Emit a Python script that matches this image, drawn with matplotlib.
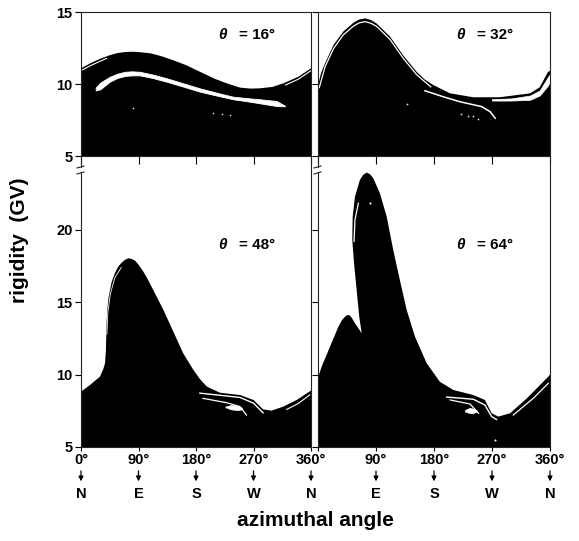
import matplotlib.pyplot as plt
from matplotlib.lines import Line2D

plt.rcParams['font.family'] = ['Liberation Sans', 'DejaVu Sans']
plt.rcParams['font.weight'] = 'bold'

W, H = 579, 541

# ---- theta = 16 deg (top left) ----
az16 = [0, 15, 30, 45, 57, 69, 80, 90, 109, 126, 143, 165, 186, 210, 228, 249, 265, 280, 300, 317, 340, 360]
r16 = [11.09, 11.45, 11.75, 12.0, 12.15, 12.22, 12.24, 12.22, 12.13, 11.93, 11.67, 11.3, 10.85, 10.35, 10.05, 9.75, 9.68, 9.7, 9.8, 10.05, 10.5, 11.09]
band16_az = [23, 30, 45, 57, 69, 80, 92, 112, 134, 160, 186, 212, 238, 260, 280, 306, 319]
band16_lo = [9.55, 9.63, 10.16, 10.42, 10.56, 10.6, 10.6, 10.42, 10.16, 9.82, 9.47, 9.2, 8.94, 8.8, 8.66, 8.47, 8.45]
band16_hi = [9.75, 10.09, 10.5, 10.72, 10.85, 10.88, 10.85, 10.66, 10.4, 10.05, 9.7, 9.4, 9.12, 9.02, 8.94, 8.82, 8.5]
edge16a_az = [0, 15, 30, 40]
edge16a_r = [10.93, 11.28, 11.58, 11.78]
edge16b_az = [320, 340, 360]
edge16b_r = [9.93, 10.33, 10.93]
spk16_az = [81, 207, 220, 233]
spk16_r = [8.3, 8.0, 7.95, 7.85]

# ---- theta = 32 deg (top right) ----
az32 = [0, 5, 11, 24, 39, 55, 64, 73, 82, 91, 112, 132, 153, 166, 179, 205, 241, 282, 329, 344, 357, 360]
r32 = [9.9, 10.8, 11.44, 12.7, 13.63, 14.26, 14.48, 14.56, 14.45, 14.2, 13.28, 12.0, 10.85, 10.3, 9.93, 9.35, 9.08, 9.08, 9.35, 9.77, 10.85, 10.9]
edge32_az = [2, 11, 24, 39, 55, 64, 73, 82, 91, 112, 132, 153, 175]
edge32_r = [9.75, 11.2, 12.45, 13.4, 14.02, 14.25, 14.33, 14.22, 14.0, 13.08, 11.8, 10.65, 9.8]
line32_az = [166, 194, 220, 254, 267, 275]
line32_r = [9.53, 9.12, 8.77, 8.43, 8.08, 7.62]
band32_az = [270, 300, 329, 344, 357, 360]
band32_lo = [8.85, 8.85, 8.9, 9.2, 9.9, 10.2]
band32_hi = [8.95, 9.0, 9.2, 9.55, 10.5, 10.7]
spk32_az = [222, 232, 240, 249, 138]
spk32_r = [7.9, 7.8, 7.75, 7.6, 8.6]

# ---- theta = 48 deg (bottom left) ----
az48 = [0, 14, 29.7, 35, 37.6, 39, 40, 41.2, 43, 45.4, 48, 53, 58, 63.7, 68.5, 74, 79, 84.5, 90, 97.5, 105, 113, 129, 144.5, 160, 176, 186, 197, 217.6, 249, 270, 285, 298, 316.7, 337.6, 360]
r48 = [8.82, 9.28, 9.86, 10.4, 10.78, 11.7, 13.55, 14.47, 15.3, 15.85, 16.4, 17.0, 17.45, 17.74, 17.92, 18.04, 18.0, 17.88, 17.6, 17.12, 16.55, 15.85, 14.47, 12.97, 11.47, 10.32, 9.7, 9.17, 8.75, 8.59, 8.25, 7.6, 7.51, 7.79, 8.25, 8.9]
edge48_az = [40.5, 42, 46, 53, 63]
edge48_r = [12.8, 14.3, 15.6, 16.7, 17.4]
line48a_az = [186, 212, 249, 270, 285]
line48a_r = [8.72, 8.6, 8.42, 8.03, 7.36]
line48b_az = [191, 228, 249, 259]
line48b_r = [8.36, 8.06, 7.79, 7.21]
lens48_az = [226, 235, 245, 252]
lens48_lo = [7.75, 7.6, 7.55, 7.6]
lens48_hi = [7.8, 7.9, 7.85, 7.7]
line48c_az = [322, 340, 358]
line48c_r = [7.6, 8.0, 8.6]

# ---- theta = 64 deg (bottom right), outline goes over the overhang ----
az64 = [0, 5.7, 18.6, 31.6, 37, 41.9, 45, 48.6, 52, 57.4, 67.8, 64, 60, 55.9, 53.2, 53.8, 57.4, 65, 70, 75.5, 80.5, 85.8, 96, 106.6, 116.8, 127, 137.6, 150.5, 168.7, 189, 210, 241, 259, 269.5, 279.8, 298, 324, 357.4, 360]
r64 = [9.8, 10.55, 11.93, 13.31, 13.75, 14.0, 14.1, 14.12, 13.95, 13.55, 12.86, 14.0, 15.85, 17.7, 19.3, 20.9, 22.3, 23.45, 23.8, 23.96, 23.85, 23.57, 22.53, 20.92, 18.6, 16.54, 14.47, 12.62, 10.78, 9.51, 8.94, 8.59, 8.25, 7.33, 7.1, 7.33, 8.36, 9.86, 10.0]
edge64_az = [62.6, 57.4, 55.9]
edge64_r = [21.84, 20.7, 19.2]
line64a_az = [199.7, 241, 259, 269.5, 277]
line64a_r = [8.45, 8.3, 7.9, 7.1, 6.9]
line64b_az = [205, 236, 249]
line64b_r = [8.25, 7.97, 7.33]
lens64_az = [228, 235, 241, 246]
lens64_lo = [7.45, 7.35, 7.35, 7.45]
lens64_hi = [7.55, 7.7, 7.65, 7.55]
line64c_az = [303, 334, 357.4]
line64c_r = [7.21, 8.36, 9.4]
spk64_az = [80.7, 274.7]
spk64_r = [21.85, 5.48]

thetas = ['16°', '32°', '48°', '64°']
xtick_vals = [0, 90, 180, 270, 360]
compass = ['N', 'E', 'S', 'W', 'N']

fig = plt.figure(figsize=(W / 100, H / 100), dpi=100)


def add_ax(x0, y0, x1, y1):
    return fig.add_axes([x0 / W, 1 - y1 / H, (x1 - x0) / W, (y1 - y0) / H])


cols = [(81, 311), (318, 550)]
ax16 = add_ax(81, 12, 311, 156)
ax32 = add_ax(318, 12, 550, 156)
ax48 = add_ax(81, 172, 311, 447)
ax64 = add_ax(318, 172, 550, 447)

panels = [
    (ax16, az16, r16, (5, 15), [5, 10, 15]),
    (ax32, az32, r32, (5, 15), [5, 10, 15]),
    (ax48, az48, r48, (5, 24), [5, 10, 15, 20]),
    (ax64, az64, r64, (5, 24), [5, 10, 15, 20]),
]

for i, (ax, az, r, ylim, yt) in enumerate(panels):
    ax.fill(az + [360, 0], r + [0, 0], color='black', lw=0)
    ax.set_xlim(0, 360)
    ax.set_ylim(*ylim)
    ax.set_yticks(yt)
    ax.set_xticks(xtick_vals)
    for sp in ax.spines.values():
        sp.set_linewidth(0.8)
        sp.set_color('#222222')
    ax.tick_params(direction='out', width=0.8, colors='black', labelsize=10.5, pad=1.5)
    ax.tick_params(axis='y', length=4.5)
    if i % 2 == 1:
        ax.set_yticklabels([])
    else:
        ax.set_yticklabels([str(v) for v in yt], fontweight='bold')
    if i < 2:
        ax.tick_params(axis='x', length=5.5, labelbottom=False)
    else:
        ax.spines['top'].set_visible(False)
        ax.tick_params(axis='x', length=3, pad=1)
        labels = [f'{v}°' for v in xtick_vals]
        if i == 3:
            labels[0] = ''
        ax.set_xticklabels(labels, fontweight='bold')
    ax.text(0.597, 0.84 if i < 2 else 0.735, 'θ', transform=ax.transAxes,
            fontsize=11, fontweight='bold', fontstyle='italic', va='center')
    ax.text(0.685, 0.84 if i < 2 else 0.735, '= ' + thetas[i], transform=ax.transAxes,
            fontsize=11, fontweight='bold', va='center')

# white streaks inside the black regions
ax16.fill_between(band16_az, band16_lo, band16_hi, color='white', lw=0.6, edgecolor='white')
ax16.plot(edge16a_az, edge16a_r, color='white', lw=0.8)
ax16.plot(edge16b_az, edge16b_r, color='white', lw=0.8)
ax16.plot(spk16_az, spk16_r, 'o', color='#dddddd', ms=1.2, mew=0)

ax32.plot(edge32_az, edge32_r, color='white', lw=0.9)
ax32.plot(line32_az, line32_r, color='white', lw=1.1)
ax32.fill_between(band32_az, band32_lo, band32_hi, color='white', lw=0.5, edgecolor='white')
ax32.plot(spk32_az, spk32_r, 'o', color='#dddddd', ms=1.3, mew=0)

ax48.plot(edge48_az, edge48_r, color='white', lw=0.6)
ax48.plot(line48a_az, line48a_r, color='white', lw=1.0)
ax48.plot(line48b_az, line48b_r, color='white', lw=0.9)
ax48.fill_between(lens48_az, lens48_lo, lens48_hi, color='white', lw=0.5, edgecolor='white')
ax48.plot(line48c_az, line48c_r, color='white', lw=0.8)

ax64.plot(edge64_az, edge64_r, color='white', lw=0.9)
ax64.plot(line64a_az, line64a_r, color='white', lw=1.0)
ax64.plot(line64b_az, line64b_r, color='white', lw=0.9)
ax64.fill_between(lens64_az, lens64_lo, lens64_hi, color='white', lw=0.5, edgecolor='white')
ax64.plot(line64c_az, line64c_r, color='white', lw=0.9)
ax64.plot(spk64_az, spk64_r, 'o', color='white', ms=1.5, mew=0)


# axis breaks between top and bottom rows
def fl(x0, y0, x1, y1):
    fig.add_artist(Line2D([x0 / W, x1 / W], [1 - y0 / H, 1 - y1 / H], color='#222222', lw=0.8))


for xl, xr in cols:
    fl(xl, 156, xl, 166.5)
    fl(xl - 4, 168, xl + 3, 166)
    fl(xl - 4, 174, xl + 3, 172)
    fl(xr, 156, xr, 172)

# arrows and compass letters under the bottom row
for j, ax in enumerate([ax48, ax64]):
    tr = ax.get_xaxis_transform()
    for k, v in enumerate(xtick_vals):
        if j == 1 and k == 0:
            continue
        ax.annotate('', xy=(v, -0.135), xytext=(v, -0.077), xycoords=tr, textcoords=tr,
                    arrowprops=dict(arrowstyle='-|>', lw=0.9, color='black', mutation_scale=7))
        ax.text(v, -0.172, compass[k], transform=tr, ha='center', va='center',
                fontsize=10.5, fontweight='bold', clip_on=False)

fig.text(20 / W, 1 - 240 / H, 'rigidity  (GV)', rotation=90, ha='center', va='center',
         fontsize=15, fontweight='bold')
fig.text(315 / W, 1 - 521 / H, 'azimuthal angle', ha='center', va='center',
         fontsize=15, fontweight='bold')

fig.savefig('out.png', dpi=100)
